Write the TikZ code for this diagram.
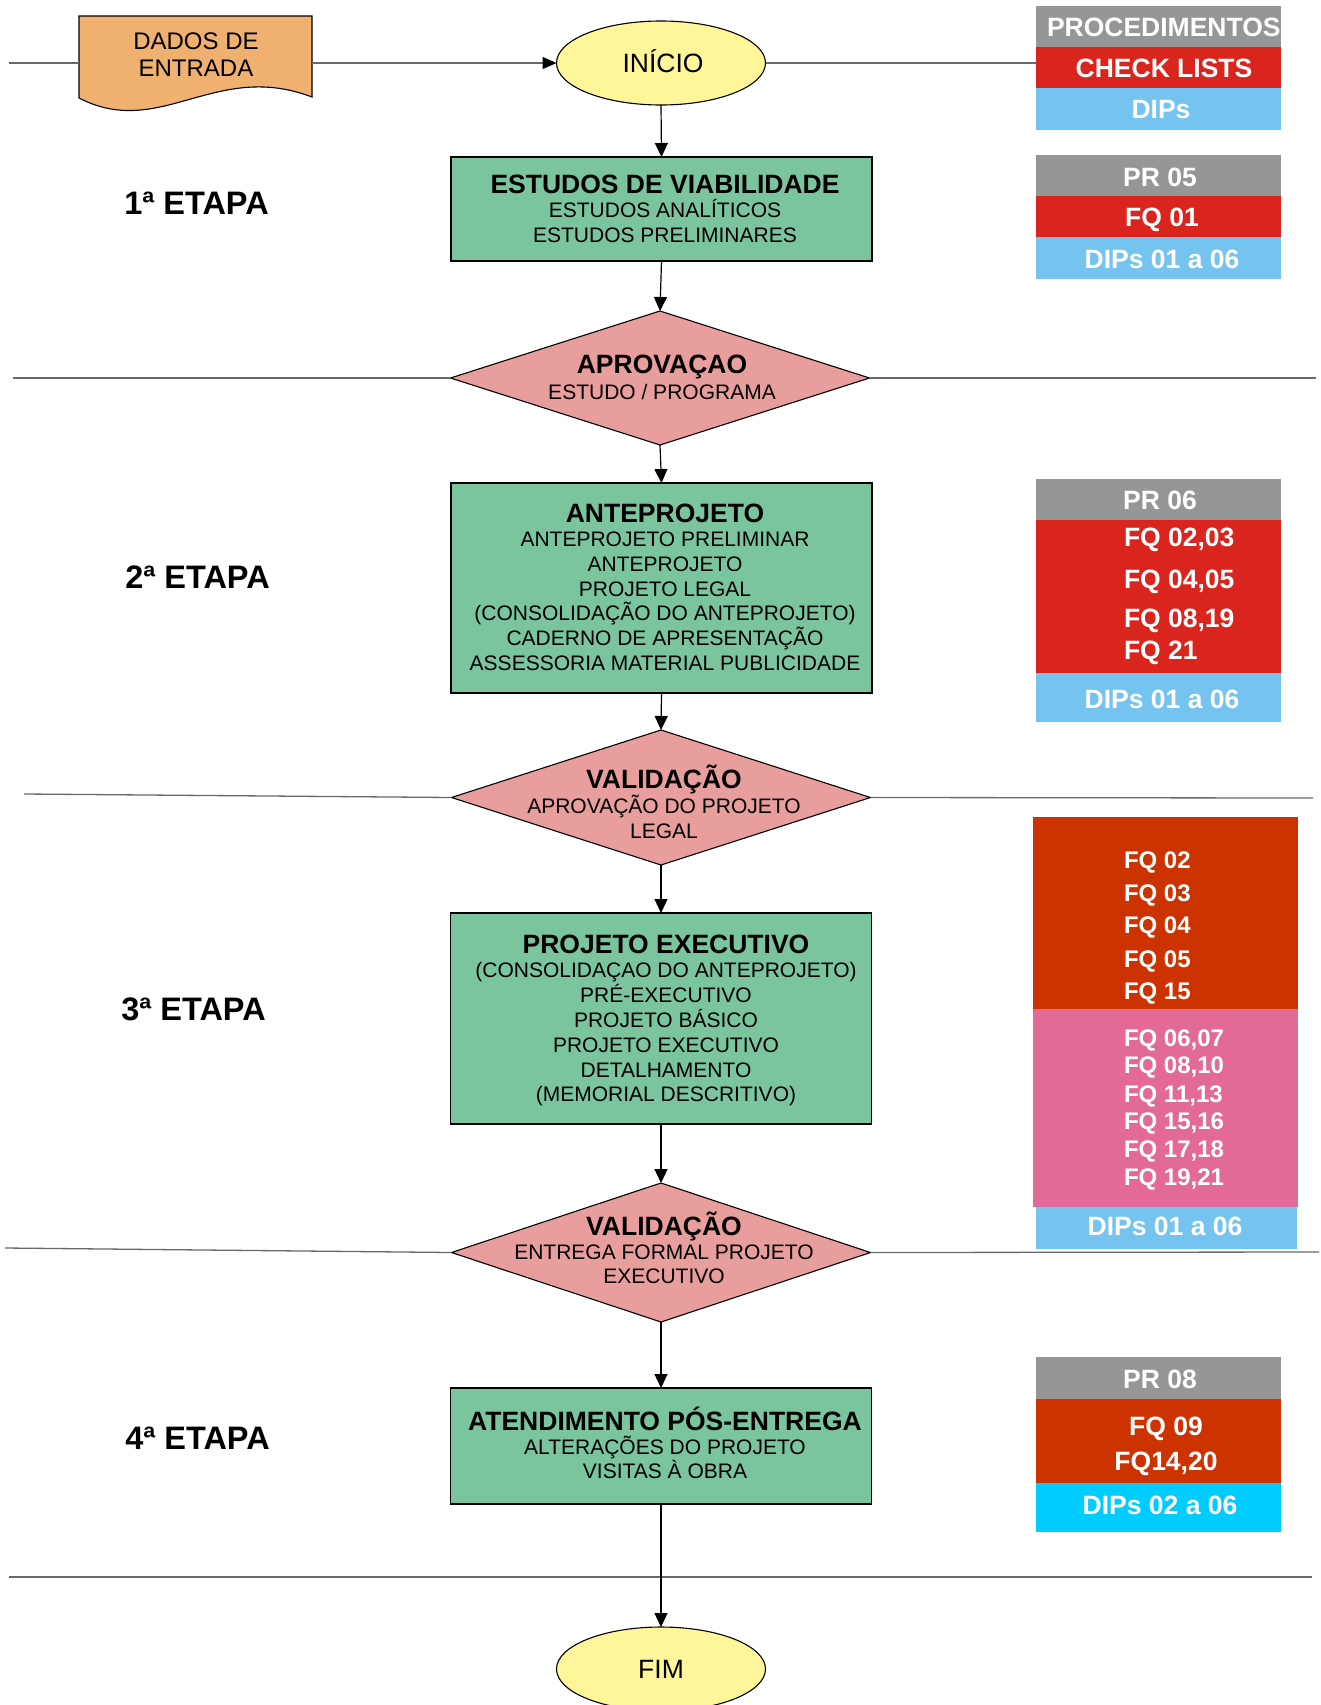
\documentclass[tikz,border=0pt]{standalone}
\usepackage{fontspec}
\setmainfont{Liberation Sans}
\usetikzlibrary{shapes.geometric,arrows.meta}

\definecolor{boxgreen}{RGB}{122,196,158}
\definecolor{decpink}{RGB}{232,158,156}
\definecolor{termyel}{RGB}{255,246,153}
\definecolor{docorange}{RGB}{239,176,112}
\definecolor{leggray}{RGB}{150,150,150}
\definecolor{legred}{RGB}{217,37,29}
\definecolor{legblue}{RGB}{117,196,240}
\definecolor{legrust}{RGB}{204,51,0}
\definecolor{legpink}{RGB}{227,106,152}
\definecolor{legcyan}{RGB}{0,204,255}
\definecolor{sepgray}{RGB}{105,105,105}

% centred lines with a fixed baseline distance; the box's baseline is the first line's
\newcommand{\stack}[2][24.6pt]{\vtop{\baselineskip=#1\lineskiplimit=-\maxdimen\lineskip=0pt
  \halign{\hfil##\hfil\cr#2\crcr}}}
\newcommand{\ttl}[1]{{\fontsize{26.5}{24.6}\selectfont\bfseries #1}}

\begin{document}
\begin{tikzpicture}[x=1pt,y=-1pt,
  every node/.style={inner sep=0pt,outer sep=0pt},
  stepbox/.style={rectangle,draw=black,line width=1.1pt,fill=boxgreen,minimum width=421pt},
  gate/.style={diamond,draw=black,line width=1.1pt,fill=decpink,minimum width=419pt},
  term/.style={ellipse,draw=black,line width=1.1pt,fill=termyel,minimum width=209pt,minimum height=84pt},
  cell/.style={rectangle,anchor=north west,minimum width=245pt},
  bodytxt/.style={font=\fontsize{21}{24.6}\selectfont,text=black,anchor=base},
  termtxt/.style={font=\fontsize{26.5}{30}\selectfont,text=black,anchor=base},
  legtxt/.style={font=\fontsize{26.5}{30}\selectfont\bfseries,text=white,anchor=base},
  fqtxt/.style={font=\fontsize{24}{28}\selectfont\bfseries,text=white,anchor=base west},
  etapa/.style={font=\fontsize{32.5}{36}\selectfont\bfseries,text=black,anchor=base},
  flow/.style={draw=black,line width=1.2pt,-{Triangle[length=14pt,width=13pt]}},
  sep/.style={draw=sepgray,line width=1.3pt},
]
\clip (0,0) rectangle (1320,1705);
\fill[white] (0,0) rectangle (1320,1705);

% ---------- input document and start ----------
\node[minimum width=233pt,minimum height=82pt] (dados) at (195.5,57) {};
\filldraw[fill=docorange,draw=black,line width=1.1pt]
  (79,16) -- (312,16) -- (312,97) .. controls (215,60) and (160,140) .. (79,98) -- cycle;
\node[font=\fontsize{24}{27}\selectfont,anchor=base] (dadost) at (196,49)
  {\stack[27pt]{DADOS DE\cr ENTRADA}};

\node[term] (ini) at (661,63) {};
\node[termtxt] (init) at (663,72) {INÍCIO};

% ---------- process steps ----------
\node[stepbox,minimum height=104pt] (esv) at (661.5,209) {};
\node[bodytxt] (esvt) at (665,193)
  {\stack{\ttl{ESTUDOS DE VIABILIDADE}\cr ESTUDOS ANALÍTICOS\cr ESTUDOS PRELIMINARES}};

\node[gate,minimum height=134pt] (apr) at (660,378) {};
\node[bodytxt] (aprt) at (662,373)
  {\stack[26pt]{\ttl{APROVAÇAO}\cr ESTUDO / PROGRAMA}};

\node[stepbox,minimum height=210pt] (ant) at (661.5,588) {};
\node[bodytxt] (antt) at (665,522)
  {\stack[24.7pt]{\ttl{ANTEPROJETO}\cr ANTEPROJETO PRELIMINAR\cr ANTEPROJETO\cr PROJETO LEGAL\cr
   (CONSOLIDAÇÃO DO ANTEPROJETO)\cr CADERNO DE APRESENTAÇÃO\cr ASSESSORIA MATERIAL PUBLICIDADE}};

\node[gate,minimum height=135pt] (va1) at (661,797.5) {};
\node[bodytxt] (va1t) at (664,788)
  {\stack[25pt]{\ttl{VALIDAÇÃO}\cr APROVAÇÃO DO PROJETO\cr LEGAL}};

\node[stepbox,minimum height=211pt] (pex) at (661,1018.5) {};
\node[bodytxt] (pext) at (666,953)
  {\stack[24.8pt]{\ttl{PROJETO EXECUTIVO}\cr (CONSOLIDAÇAO DO ANTEPROJETO)\cr PRÉ-EXECUTIVO\cr
   PROJETO BÁSICO\cr PROJETO EXECUTIVO\cr DETALHAMENTO\cr (MEMORIAL DESCRITIVO)}};

\node[gate,minimum height=139pt] (va2) at (661,1252.5) {};
\node[bodytxt] (va2t) at (664,1235)
  {\stack[24pt]{\ttl{VALIDAÇÃO}\cr ENTREGA FORMAL PROJETO\cr EXECUTIVO}};

\node[stepbox,minimum height=116pt] (ate) at (661,1446) {};
\node[bodytxt] (atet) at (665,1430)
  {\stack[24pt]{\ttl{ATENDIMENTO PÓS-ENTREGA}\cr ALTERAÇÕES DO PROJETO\cr VISITAS À OBRA}};

\node[term] (fim) at (661,1669) {};
\node[termtxt] (fimt) at (661,1678) {FIM};

% ---------- stage labels ----------
\node[etapa] (e1) at (196.5,214) {1ª ETAPA};
\node[etapa] (e2) at (197.5,588) {2ª ETAPA};
\node[etapa] (e3) at (193.5,1020) {3ª ETAPA};
\node[etapa] (e4) at (197.5,1449) {4ª ETAPA};

% ---------- reference tables ----------
\node[cell,fill=leggray,minimum height=41pt] (p0) at (1036,6) {};
\node[cell,fill=legred,minimum height=41pt] (c0) at (1036,47) {};
\node[cell,fill=legblue,minimum height=42pt] (d0) at (1036,88) {};
\begin{scope}
  \clip (1036,6) rectangle (1281,47);
  \node[legtxt,anchor=base west] (p0t) at (1047,36) {PROCEDIMENTOS};
\end{scope}
\node[legtxt] (c0t) at (1164,77) {CHECK LISTS};
\node[legtxt] (d0t) at (1161,118) {DIPs};

\node[cell,fill=leggray,minimum height=41pt] (p1) at (1036,155) {};
\node[cell,fill=legred,minimum height=41pt] (c1) at (1036,196) {};
\node[cell,fill=legblue,minimum height=42pt] (d1) at (1036,237) {};
\node[legtxt] (p1t) at (1160,186) {PR 05};
\node[legtxt] (c1t) at (1162,226) {FQ 01};
\node[legtxt] (d1t) at (1162,268) {DIPs 01 a 06};

\node[cell,fill=leggray,minimum height=41pt] (p2) at (1036,479) {};
\node[cell,fill=legred,minimum height=153pt] (c2) at (1036,520) {};
\node[cell,fill=legblue,minimum height=49pt] (d2) at (1036,673) {};
\node[legtxt] (p2t) at (1160,509) {PR 06};
\node[legtxt,anchor=base west] (c2a) at (1124,546) {FQ 02,03};
\node[legtxt,anchor=base west] (c2b) at (1124,588) {FQ 04,05};
\node[legtxt,anchor=base west] (c2c) at (1124,627) {FQ 08,19};
\node[legtxt,anchor=base west] (c2d) at (1124,659) {FQ 21};
\node[legtxt] (d2t) at (1162,708) {DIPs 01 a 06};

\node[cell,fill=legrust,minimum width=265pt,minimum height=192pt] (r3) at (1033,817) {};
\node[cell,fill=legpink,minimum width=265pt,minimum height=198pt] (k3) at (1033,1009) {};
\node[cell,fill=legblue,minimum width=261pt,minimum height=42pt] (d3) at (1036,1207) {};
\node[fqtxt] (r3a) at (1124,868) {FQ 02};
\node[fqtxt] (r3b) at (1124,901) {FQ 03};
\node[fqtxt] (r3c) at (1124,933) {FQ 04};
\node[fqtxt] (r3d) at (1124,967) {FQ 05};
\node[fqtxt] (r3e) at (1124,999) {FQ 15};
\node[fqtxt] (k3a) at (1124,1046) {FQ 06,07};
\node[fqtxt] (k3b) at (1124,1073) {FQ 08,10};
\node[fqtxt] (k3c) at (1124,1102) {FQ 11,13};
\node[fqtxt] (k3d) at (1124,1129) {FQ 15,16};
\node[fqtxt] (k3e) at (1124,1157) {FQ 17,18};
\node[fqtxt] (k3f) at (1124,1185) {FQ 19,21};
\node[legtxt] (d3t) at (1165,1235) {DIPs 01 a 06};

\node[cell,fill=leggray,minimum height=42pt] (p4) at (1036,1357) {};
\node[cell,fill=legrust,minimum height=84pt] (r4) at (1036,1399) {};
\node[cell,fill=legcyan,minimum height=49pt] (d4) at (1036,1483) {};
\node[legtxt] (p4t) at (1160,1388) {PR 08};
\node[legtxt] (r4a) at (1166,1435) {FQ 09};
\node[legtxt] (r4b) at (1166,1470) {FQ14,20};
\node[legtxt] (d4t) at (1160,1514) {DIPs 02 a 06};

% ---------- stage separators ----------
\coordinate (s0a) at (9,63);
\coordinate (s1a) at (13,378);  \coordinate (s1b) at (1316,378);
\coordinate (s2a) at (24,794);  \coordinate (s2b) at (1313,798);
\coordinate (s3a) at (5,1248);  \coordinate (s3b) at (1319,1252);
\coordinate (s4a) at (9,1577);  \coordinate (s4b) at (1312,1577);

\draw[sep] (s0a) -- (dados.west |- s0a);
\draw[sep,-{Triangle[length=14pt,width=12pt,color=black]}] (dados.east |- s0a) -- (ini.west);
\draw[sep] (ini.east) -- (ini.east -| c0.west);
\draw[sep] (s1a) -- (apr.west);  \draw[sep] (apr.east) -- (s1b);
\draw[sep] (s2a) -- (va1.west);  \draw[sep] (va1.east) -- (s2b);
\draw[sep] (s3a) -- (va2.west);  \draw[sep] (va2.east) -- (s3b);
\draw[sep] (s4a) -- (s4b);

% ---------- flow ----------
\draw[flow] (ini.south) -- (esv.north);
\draw[flow] (esv.south) -- (apr.north);
\draw[flow] (apr.south) -- (ant.north);
\draw[flow] (ant.south) -- (va1.north);
\draw[flow] (va1.south) -- (pex.north);
\draw[flow] (pex.south) -- (va2.north);
\draw[flow] (va2.south) -- (ate.north);
\draw[flow] (ate.south) -- (fim.north);
\end{tikzpicture}
\end{document}
